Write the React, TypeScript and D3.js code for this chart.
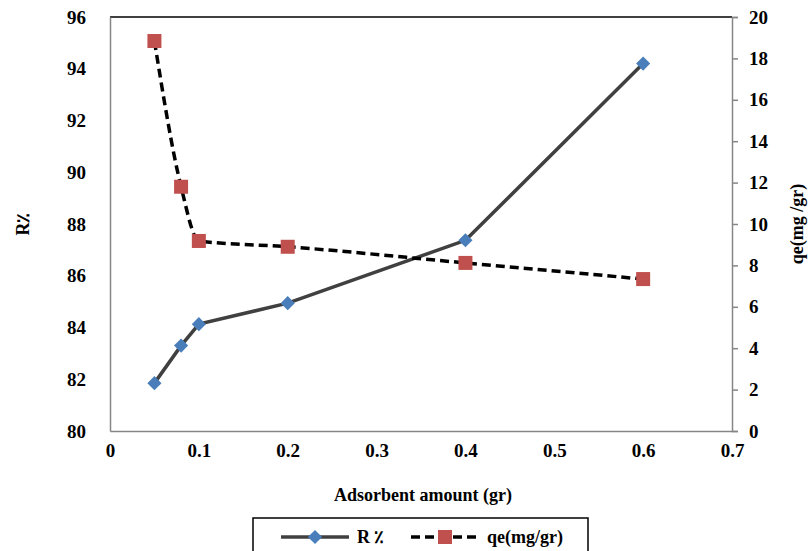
import React, { useEffect, useRef } from 'react';
import * as d3 from 'd3';

const amounts = [0.05, 0.08, 0.1, 0.2, 0.4, 0.6];
const removal = [81.85, 83.3, 84.13, 84.94, 87.37, 94.2];
const qe = [18.84, 11.8, 9.18, 8.9, 8.12, 7.34];

const xTicks = [0, 0.1, 0.2, 0.3, 0.4, 0.5, 0.6, 0.7];
const leftTicks = [80, 82, 84, 86, 88, 90, 92, 94, 96];
const rightTicks = [0, 2, 4, 6, 8, 10, 12, 14, 16, 18, 20];

const FONT = "'Liberation Serif', 'Times New Roman', serif";
const TICK_FS = 19;
const FS = 18;

const App = () => {
  const svgRef = useRef<SVGSVGElement>(null);

  useEffect(() => {
    const width = 809;
    const height = 551;
    const m = { left: 110, right: 732, top: 17, bottom: 431 };

    const svg = d3.select(svgRef.current).attr('width', width).attr('height', height);
    svg.selectAll('*').remove();

    const x = d3.scaleLinear().domain([0, 0.7]).range([m.left, m.right]);
    const yL = d3.scaleLinear().domain([80, 96]).range([m.bottom, m.top]);
    const yR = d3.scaleLinear().domain([0, 20]).range([m.bottom, m.top]);

    // plot frame top edge
    svg.append('line')
      .attr('x1', m.left).attr('x2', m.right)
      .attr('y1', m.top).attr('y2', m.top)
      .attr('stroke', '#000').attr('stroke-width', 1.5);

    const bottomAxis = svg.append('g')
      .attr('transform', `translate(0,${m.bottom})`)
      .call(d3.axisBottom(x).tickValues(xTicks).tickSize(0).tickPadding(13).tickFormat(d => String(d)));
    const leftAxis = svg.append('g')
      .attr('transform', `translate(${m.left},0)`)
      .call(d3.axisLeft(yL).tickValues(leftTicks).tickSize(0).tickPadding(24));
    const rightAxis = svg.append('g')
      .attr('transform', `translate(${m.right},0)`)
      .call(d3.axisRight(yR).tickValues(rightTicks).tickSize(6).tickPadding(11));

    [bottomAxis, leftAxis, rightAxis].forEach(g => {
      g.attr('font-family', null).attr('font-size', null);
      g.select('.domain').attr('stroke', '#868686').attr('stroke-width', 1.5);
      g.selectAll('.tick line').attr('stroke', '#868686').attr('stroke-width', 1.5);
      g.selectAll('.tick text')
        .style('font-family', FONT)
        .style('font-weight', 'bold')
        .style('font-size', TICK_FS + 'px')
        .attr('fill', '#000');
    });

    const label = (sel: any) => sel
      .style('font-family', FONT).style('font-weight', 'bold').style('font-size', FS + 'px');

    // axis titles
    svg.append('text')
      .attr('x', 423).attr('y', 501)
      .attr('text-anchor', 'middle')
      .call(label)
      .text('Adsorbent amount (gr)');
    svg.append('text')
      .attr('transform', `translate(29,${(m.top + m.bottom) / 2}) rotate(-90)`)
      .attr('text-anchor', 'middle')
      .call(label)
      .text('R٪');
    svg.append('text')
      .attr('transform', `translate(803,${(m.top + m.bottom) / 2}) rotate(-90)`)
      .attr('text-anchor', 'middle')
      .call(label)
      .text('qe(mg /gr)');

    const idx = d3.range(amounts.length);

    // R% solid line
    const lineR = d3.line<number>().x(i => x(amounts[i])).y(i => yL(removal[i]));
    svg.append('path')
      .attr('d', lineR(idx))
      .attr('fill', 'none').attr('stroke', '#404040').attr('stroke-width', 3.5);

    // qe dashed smoothed line
    const lineQ = d3.line<number>()
      .x(i => x(amounts[i])).y(i => yR(qe[i]))
      .curve(d3.curveMonotoneX);
    svg.append('path')
      .attr('d', lineQ(idx))
      .attr('fill', 'none').attr('stroke', '#000').attr('stroke-width', 3.5)
      .attr('stroke-dasharray', '9,5');

    const diamond = d3.symbol().type(d3.symbolSquare).size(100);
    svg.selectAll('.dR').data(idx).enter().append('path')
      .attr('d', diamond())
      .attr('transform', i => `translate(${x(amounts[i])},${yL(removal[i])}) rotate(45)`)
      .attr('fill', '#4a7ebb');

    svg.selectAll('.sQ').data(idx).enter().append('rect')
      .attr('x', i => x(amounts[i]) - 7).attr('y', i => yR(qe[i]) - 7)
      .attr('width', 14).attr('height', 14)
      .attr('fill', '#c0504d');

    // legend
    const lg = svg.append('g');
    lg.append('rect')
      .attr('x', 253).attr('y', 518).attr('width', 335).attr('height', 45)
      .attr('fill', '#fff').attr('stroke', '#000').attr('stroke-width', 1.5);
    const ly = 537;
    lg.append('line').attr('x1', 281).attr('x2', 349).attr('y1', ly).attr('y2', ly)
      .attr('stroke', '#404040').attr('stroke-width', 3.5);
    lg.append('path').attr('d', diamond())
      .attr('transform', `translate(315,${ly}) rotate(45)`).attr('fill', '#4a7ebb');
    lg.append('text').attr('x', 357).attr('y', ly + 6).call(label).text('R ٪');
    lg.append('line').attr('x1', 411).attr('x2', 479).attr('y1', ly).attr('y2', ly)
      .attr('stroke', '#000').attr('stroke-width', 3.5).attr('stroke-dasharray', '9,5');
    lg.append('rect').attr('x', 438).attr('y', ly - 7).attr('width', 14).attr('height', 14)
      .attr('fill', '#c0504d');
    lg.append('text').attr('x', 487).attr('y', ly + 6).call(label).text('qe(mg/gr)');
  }, []);

  return (
    <div style={{ position: 'absolute', left: 0, top: 0 }}>
      <svg ref={svgRef}></svg>
    </div>
  );
};

export default App;
